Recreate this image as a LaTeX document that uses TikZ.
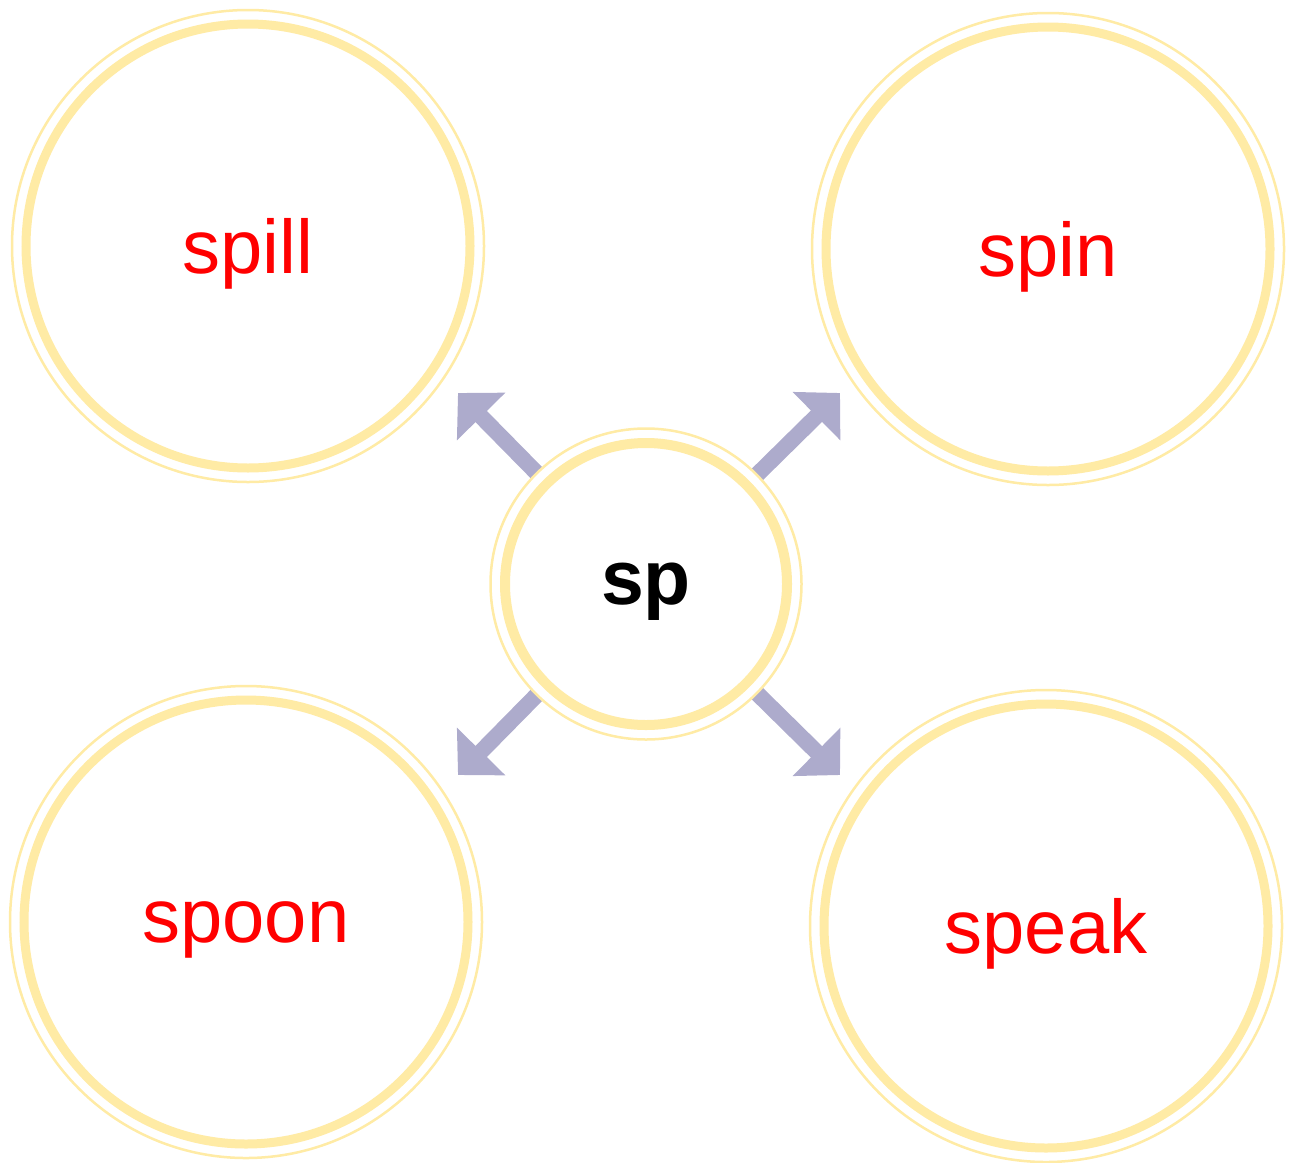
\documentclass[tikz,border=0pt]{standalone}
\usepackage{fontspec}
\setmainfont{Liberation Sans}
\usetikzlibrary{arrows.meta,backgrounds}

\definecolor{ringyellow}{RGB}{255,235,165}
\definecolor{spokeblue}{RGB}{173,171,204}
\definecolor{wordred}{RGB}{255,0,0}

\tikzset{
  ringbase/.style={circle, draw=ringyellow, fill=white, line width=2.5pt, inner sep=0pt, text depth=0pt},
  wordring/.style={ringbase, minimum size=472pt, text=wordred,
    font=\fontsize{76pt}{90pt}\selectfont,
    path picture={\draw[ringyellow, line width=9pt] (path picture bounding box.center) circle (222pt);}},
  hubring/.style={ringbase, minimum size=311pt, text=black,
    font=\bfseries\fontsize{77pt}{90pt}\selectfont,
    path picture={\draw[ringyellow, line width=10pt] (path picture bounding box.center) circle (141pt);}},
  spoke/.style={draw=spokeblue, line width=16pt, -{Triangle[length=33pt,width=66pt]}}
}

\begin{document}
\begin{tikzpicture}[x=1pt, y=-1pt]
\useasboundingbox (0,0) rectangle (1289,1162);

% ---------- hub ----------
\node[hubring] (hub) at (646,584) {sp};

% ---------- words ----------
\node[wordring] (spill) at (248,246) {spill};
\node[wordring] (spin)  at (1048,249) {spin};
\node[wordring] (spoon) at (246,922) {spoon};
\node[wordring] (speak) at (1046,926) {speak};

% ---------- spokes ----------
\coordinate (tipNW) at (458,393);
\coordinate (tipNE) at (840,393);
\coordinate (tipSW) at (458,775);
\coordinate (tipSE) at (840,775);

\begin{scope}[on background layer]
  \foreach \tip in {tipNW,tipNE,tipSW,tipSE}
    \draw[spoke] (hub.center) -- (\tip);
\end{scope}

\end{tikzpicture}
\end{document}
